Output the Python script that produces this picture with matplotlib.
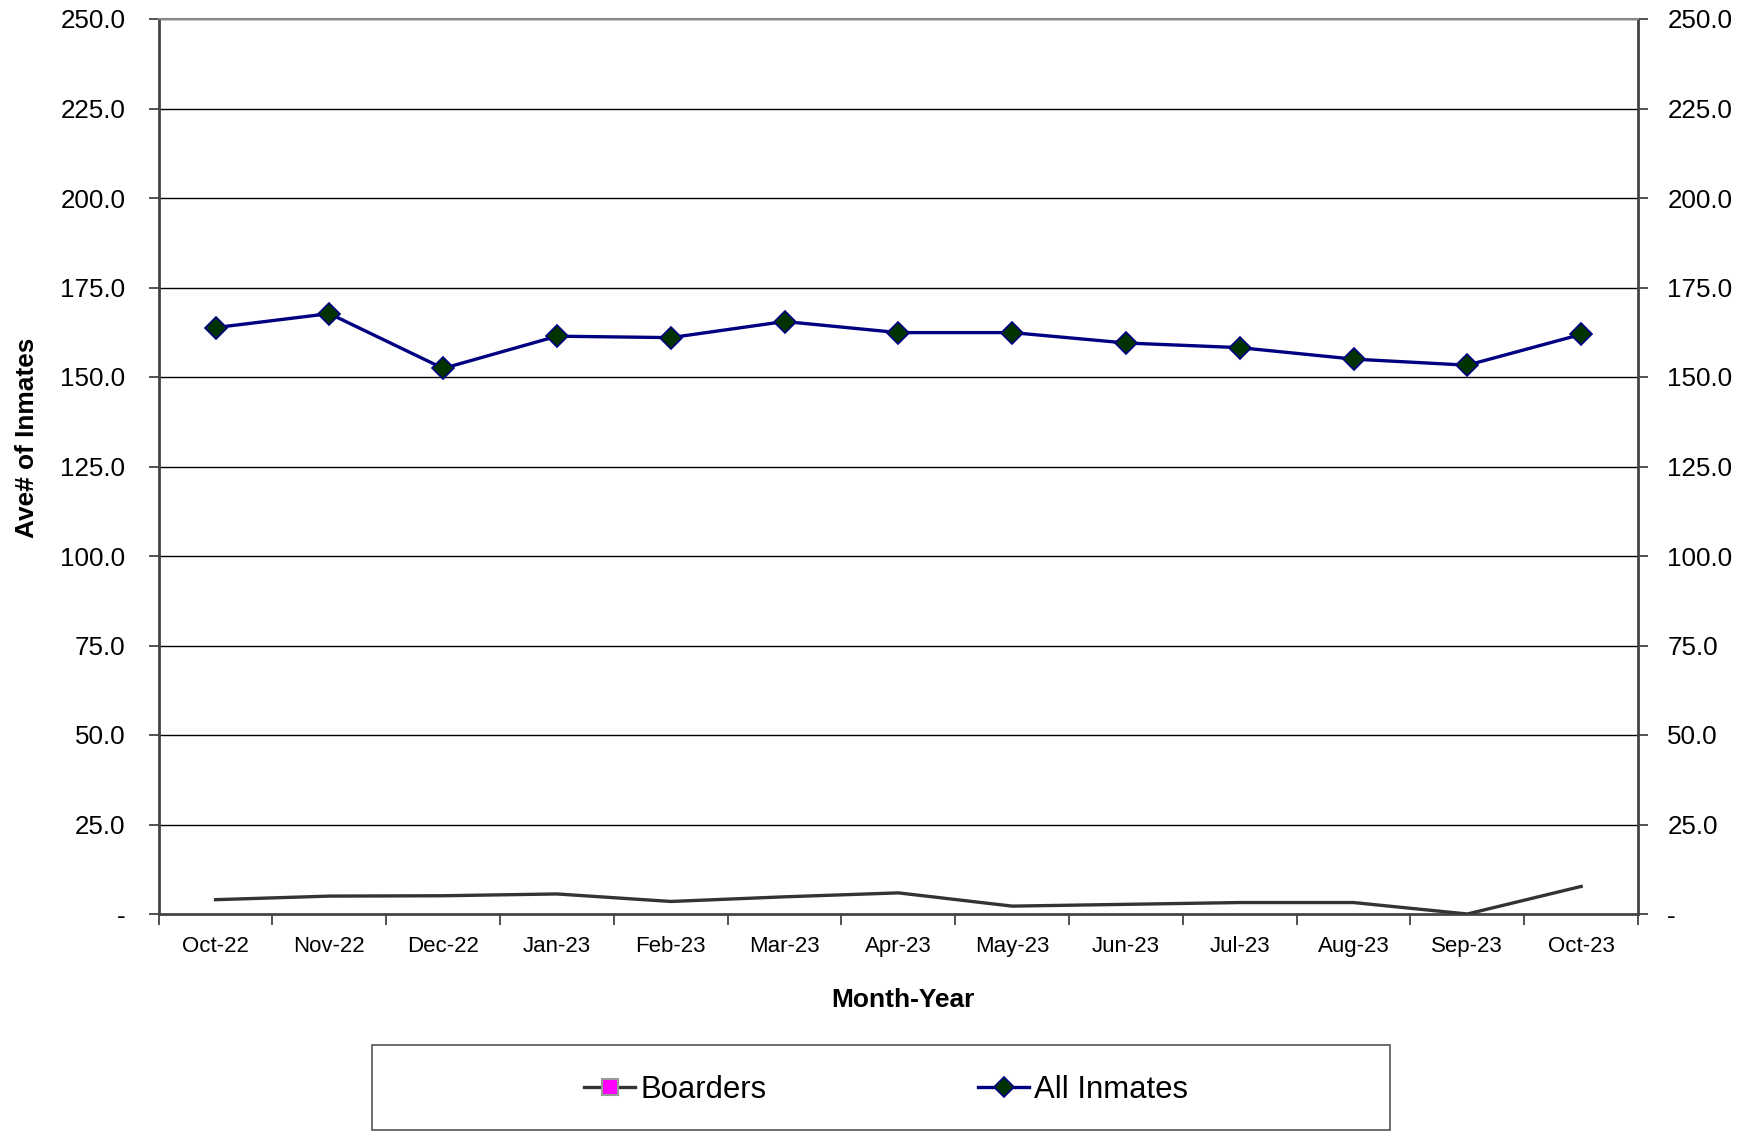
import matplotlib.pyplot as plt
from matplotlib.lines import Line2D
from matplotlib.patches import Rectangle
import matplotlib.transforms as mtransforms
import numpy as np

plt.rcParams['font.family'] = ['Liberation Sans', 'DejaVu Sans']

months = ['Oct-22', 'Nov-22', 'Dec-22', 'Jan-23', 'Feb-23', 'Mar-23', 'Apr-23',
          'May-23', 'Jun-23', 'Jul-23', 'Aug-23', 'Sep-23', 'Oct-23']
all_inmates = [163.8, 167.7, 152.4, 161.4, 161.0, 165.5, 162.4,
               162.4, 159.5, 158.2, 155.0, 153.3, 161.9]
boarders = [4.0, 5.0, 5.1, 5.6, 3.5, 4.8, 5.9,
            2.2, 2.7, 3.2, 3.2, 0.0, 7.7]
y_ticks = np.arange(0, 251, 25)
y_labels = ['-'] + [f'{v:.1f}' for v in y_ticks[1:]]

fig = plt.figure(figsize=(17.52, 11.31), dpi=100)
ax = fig.add_axes([158.7 / 1752, 1 - 914 / 1131, (1638 - 158.7) / 1752, (914 - 19) / 1131])

x = np.arange(len(months))
ax.plot(x, boarders, color='#333333', lw=2.4, zorder=3)
ax.plot(x, all_inmates, color='#000080', lw=2.4, marker='D', markersize=11,
        markerfacecolor='#003300', markeredgecolor='#000080', markeredgewidth=1.2, zorder=4)

ax.set_xlim(-0.5, len(months) - 0.5)
ax.set_ylim(0, 250)

# horizontal gridlines
for v in y_ticks[1:]:
    ax.axhline(v, color='black', lw=1.0, zorder=1)

# category labels centred, tick marks between categories
ax.set_xticks(x)
ax.set_xticklabels(months, fontsize=16)
ax.set_xticks(np.arange(-0.5, len(months)), minor=True)
ax.tick_params(axis='x', which='major', length=0, pad=16)
ax.tick_params(axis='x', which='minor', length=8, width=1.2, color='#333333', direction='out')

# same scale on both sides
ax.set_yticks(y_ticks)
ax.set_yticklabels(y_labels, fontsize=18.7)
ax.tick_params(axis='y', length=7, width=1.2, color='#333333', direction='out', pad=17,
               right=True, labelright=True)
shift = mtransforms.ScaledTranslation(-4 / 100, 0, fig.dpi_scale_trans)
for t in ax.yaxis.get_major_ticks():
    t.label2.set_transform(t.label2.get_transform() + shift)

for side in ['left', 'right', 'bottom']:
    ax.spines[side].set_color('#444444')
    ax.spines[side].set_linewidth(2.0)
ax.spines['top'].set_color('#888888')
ax.spines['top'].set_linewidth(1.5)

fig.text(903 / 1752, 1 - 1000 / 1131, 'Month-Year', fontsize=19, fontweight='bold',
         ha='center', va='center')
fig.text(27.5 / 1752, 1 - 438 / 1131, 'Ave# of Inmates', fontsize=18.9, fontweight='bold',
         ha='center', va='center', rotation=90)

# legend box
fig.patches.append(Rectangle((372 / 1752, 1 / 1131), (1390 - 372) / 1752, 85 / 1131,
                             transform=fig.transFigure, fill=False,
                             edgecolor='#555555', lw=1.2))
handles = [
    Line2D([], [], color='#333333', lw=2.4, marker='s', markersize=11,
           markerfacecolor='#ff00ff', markeredgecolor='#999999', markeredgewidth=1.5),
    Line2D([], [], color='#000080', lw=2.4, marker='D', markersize=10,
           markerfacecolor='#003300', markeredgecolor='#000080', markeredgewidth=1.2),
]
fig.legend(handles, ['Boarders', 'All Inmates'], loc='center',
           bbox_to_anchor=(886 / 1752, 1 - 1090 / 1131), ncol=2, frameon=False,
           fontsize=22.4, handlelength=1.65, handletextpad=0.15, columnspacing=6.8,
           borderaxespad=0, borderpad=0)

fig.savefig('out.png', dpi=100)
